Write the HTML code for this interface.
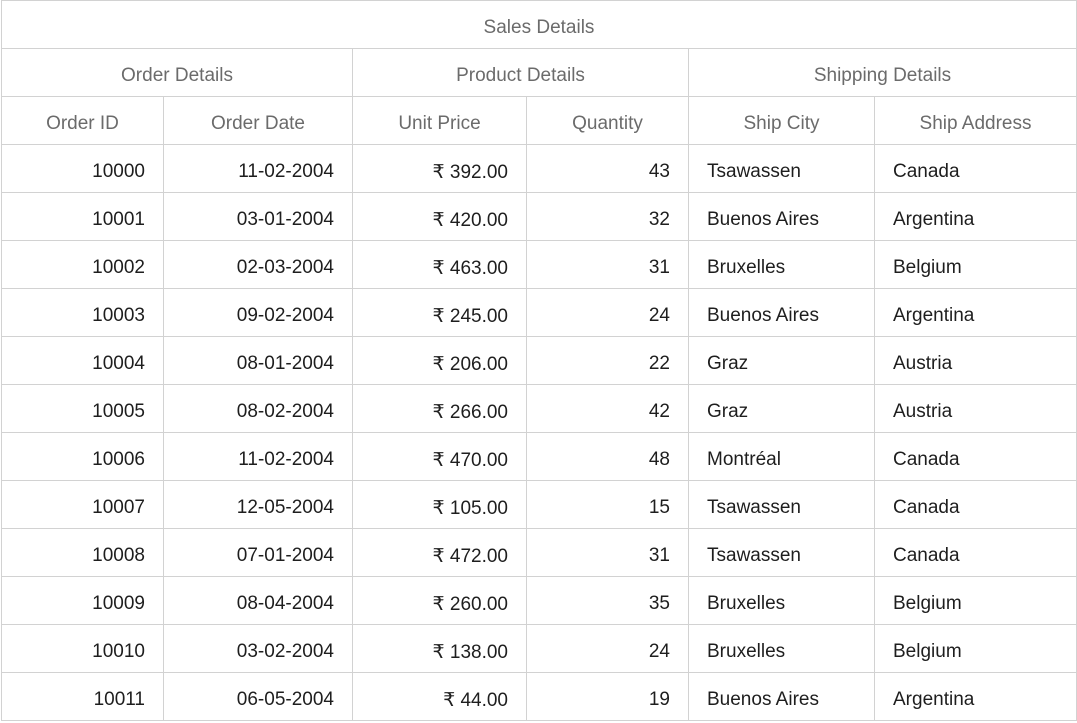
<!DOCTYPE html>
<html><head><meta charset="utf-8"><style>
html,body{margin:0;padding:0;background:#fff;width:1077px;height:723px;overflow:hidden}
table{position:absolute;left:1px;top:0;border-collapse:collapse;table-layout:fixed;font-family:"Liberation Sans",sans-serif;font-size:19px}
td,th{border:1px solid #d2d2d2;height:48px;padding:7px 18px 0 18px;white-space:nowrap;overflow:hidden;box-sizing:border-box}
th{font-weight:normal;color:#6b6b6b;text-align:center}
td{color:#1e1e1e}
td.r{text-align:right}
td.l{text-align:left}
</style></head><body>
<table>
<colgroup><col style="width:162px"><col style="width:189px"><col style="width:174px"><col style="width:162px"><col style="width:186px"><col style="width:202px"></colgroup>
<tr><th colspan="6">Sales Details</th></tr>
<tr><th colspan="2">Order Details</th><th colspan="2">Product Details</th><th colspan="2">Shipping Details</th></tr>
<tr><th>Order ID</th><th>Order Date</th><th>Unit Price</th><th>Quantity</th><th>Ship City</th><th>Ship Address</th></tr>
<tbody id="b"></tbody>
</table>
<script>
const ids=["10000","10001","10002","10003","10004","10005","10006","10007","10008","10009","10010","10011"];
const dates=["11-02-2004","03-01-2004","02-03-2004","09-02-2004","08-01-2004","08-02-2004","11-02-2004","12-05-2004","07-01-2004","08-04-2004","03-02-2004","06-05-2004"];
const prices=["₹ 392.00","₹ 420.00","₹ 463.00","₹ 245.00","₹ 206.00","₹ 266.00","₹ 470.00","₹ 105.00","₹ 472.00","₹ 260.00","₹ 138.00","₹ 44.00"];
const qtys=["43","32","31","24","22","42","48","15","31","35","24","19"];
const cities=["Tsawassen","Buenos Aires","Bruxelles","Buenos Aires","Graz","Graz","Montréal","Tsawassen","Tsawassen","Bruxelles","Bruxelles","Buenos Aires"];
const addrs=["Canada","Argentina","Belgium","Argentina","Austria","Austria","Canada","Canada","Canada","Belgium","Belgium","Argentina"];
const b=document.getElementById('b');
for(let i=0;i<ids.length;i++){
  const tr=document.createElement('tr');
  
  
  const vals=[[ids[i],'r'],[dates[i],'r'],[prices[i],'r'],[qtys[i],'r'],[cities[i],'l'],[addrs[i],'l']];
  const names=['order-id-cell','order-date-cell','unit-price-cell','quantity-cell','ship-city-cell','ship-address-cell'];
  vals.forEach((v,j)=>{
    const td=document.createElement('td');
    td.className=v[1];td.textContent=v[0];
    
    
    tr.appendChild(td);
  });
  b.appendChild(tr);
}
</script>
</body></html>
